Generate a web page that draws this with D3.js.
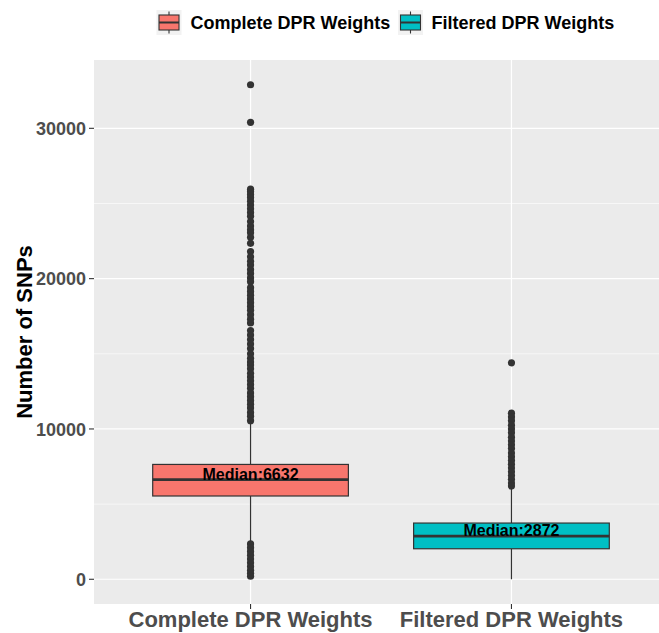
<!DOCTYPE html>
<html>
<head>
<meta charset="utf-8">
<script src="https://cdn.jsdelivr.net/npm/d3@7"></script>
<style>
  html, body { margin: 0; padding: 0; background: #fff; }
  svg { display: block; font-family: "Liberation Sans", Arial, Helvetica, sans-serif; }
</style>
</head>
<body>
<svg id="chart" width="659" height="633"></svg>
<script>
// Groups shown along the x axis
const categories = ["Complete DPR Weights", "Filtered DPR Weights"];
const fills = ["#F8766D", "#00BFC4"];

// Box summaries per group: lower whisker, Q1, median, Q3, upper whisker
const lowerWhisker = [2450, 0];
const q1Values = [5540, 2030];
const medians = [6632, 2872];
const q3Values = [7640, 3740];
const upperWhisker = [10400, 6100];

// Outlying SNP counts per group
const outliersComplete = [
  32900, 30400,
  25950, 25800, 25600, 25400, 25150, 24900, 24650, 24400, 24150,
  23800, 23500, 23250, 23050, 22750, 22350,
  21800, 21450, 21150, 20900, 20600, 20350, 20050, 19800,
  19400, 19150, 18900, 18650, 18400, 18150, 17900, 17600, 17300, 17050,
  16550, 16250, 15950, 15650,
  15350, 15000, 14700, 14450,
  14250, 14000, 13700, 13450, 13200, 12950, 12700, 12400, 12150, 11900,
  11650, 11400, 11100, 10850, 10550,
  2350, 2100, 1850, 1600, 1350, 1100, 850, 600, 400, 200
];
const outliersFiltered = [
  14400,
  11050, 10800, 10550,
  10250, 10000, 9750, 9450, 9200, 8950, 8700, 8400, 8150, 7900,
  7650, 7400, 7150, 6900, 6650, 6400, 6200
];
const outliers = [outliersComplete, outliersFiltered];

// Axis ticks
const majorTicks = [0, 10000, 20000, 30000];
const minorTicks = [5000, 15000, 25000];

const yLabel = "Number of SNPs";

const svg = d3.select("#chart");
const panel = { left: 94, right: 668, top: 60, bottom: 604 };

const x = d3.scalePoint().domain(categories).range([panel.left, panel.right]).padding(0.6);
const y = d3.scaleLinear().domain([-1645, 34545]).range([panel.bottom, panel.top]);
const boxW = x.step() * 0.75;

const ink = "#333333";

// clip for panel
svg.append("defs").append("clipPath").attr("id", "panelClip")
  .append("rect")
  .attr("x", panel.left).attr("y", panel.top)
  .attr("width", panel.right - panel.left).attr("height", panel.bottom - panel.top);

const plot = svg.append("g").attr("clip-path", "url(#panelClip)");

plot.append("rect")
  .attr("x", panel.left).attr("y", panel.top)
  .attr("width", panel.right - panel.left).attr("height", panel.bottom - panel.top)
  .attr("fill", "#EBEBEB");

// grid lines
plot.selectAll(".minor").data(minorTicks).join("line")
  .attr("x1", panel.left).attr("x2", panel.right)
  .attr("y1", d => y(d)).attr("y2", d => y(d))
  .attr("stroke", "#fff").attr("stroke-width", 0.6);
plot.selectAll(".major").data(majorTicks).join("line")
  .attr("x1", panel.left).attr("x2", panel.right)
  .attr("y1", d => y(d)).attr("y2", d => y(d))
  .attr("stroke", "#fff").attr("stroke-width", 1.2);
plot.selectAll(".vmajor").data(categories).join("line")
  .attr("x1", d => x(d)).attr("x2", d => x(d))
  .attr("y1", panel.top).attr("y2", panel.bottom)
  .attr("stroke", "#fff").attr("stroke-width", 1.2);

// boxes
categories.forEach((cat, i) => {
  const cx = x(cat);
  const g = plot.append("g");
  // whiskers
  g.append("line").attr("x1", cx).attr("x2", cx)
    .attr("y1", y(q3Values[i])).attr("y2", y(upperWhisker[i]))
    .attr("stroke", ink).attr("stroke-width", 1.2);
  g.append("line").attr("x1", cx).attr("x2", cx)
    .attr("y1", y(q1Values[i])).attr("y2", y(lowerWhisker[i]))
    .attr("stroke", ink).attr("stroke-width", 1.2);
  // box
  g.append("rect")
    .attr("x", cx - boxW / 2).attr("width", boxW)
    .attr("y", y(q3Values[i])).attr("height", y(q1Values[i]) - y(q3Values[i]))
    .attr("fill", fills[i]).attr("stroke", ink).attr("stroke-width", 1.2);
  // median
  g.append("line")
    .attr("x1", cx - boxW / 2).attr("x2", cx + boxW / 2)
    .attr("y1", y(medians[i])).attr("y2", y(medians[i]))
    .attr("stroke", ink).attr("stroke-width", 2.6);
  // outliers
  g.selectAll("circle").data(outliers[i]).join("circle")
    .attr("cx", cx).attr("cy", d => y(d)).attr("r", 3.6)
    .attr("fill", ink);
  // median label
  g.append("text")
    .attr("x", cx).attr("y", y(medians[i]))
    .attr("text-anchor", "middle")
    .attr("font-size", 16).attr("font-weight", "bold").attr("fill", "#000")
    .text("Median:" + medians[i]);
});

// y axis ticks + labels
const yAxis = svg.append("g");
yAxis.selectAll("line").data(majorTicks).join("line")
  .attr("x1", panel.left - 5).attr("x2", panel.left)
  .attr("y1", d => y(d)).attr("y2", d => y(d))
  .attr("stroke", ink).attr("stroke-width", 1.1);
yAxis.selectAll("text").data(majorTicks).join("text")
  .attr("x", panel.left - 8).attr("y", d => y(d) + 6.6)
  .attr("text-anchor", "end")
  .attr("font-size", 18).attr("font-weight", "bold").attr("fill", "#4D4D4D")
  .text(d => d);

// x axis ticks + labels
const xAxis = svg.append("g");
xAxis.selectAll("line").data(categories).join("line")
  .attr("x1", d => x(d)).attr("x2", d => x(d))
  .attr("y1", panel.bottom).attr("y2", panel.bottom + 5)
  .attr("stroke", ink).attr("stroke-width", 1.1);
xAxis.selectAll("text").data(categories).join("text")
  .attr("x", d => x(d)).attr("y", 627)
  .attr("text-anchor", "middle")
  .attr("font-size", 22).attr("font-weight", "bold").attr("fill", "#4D4D4D")
  .text(d => d);

// y title
svg.append("text")
  .attr("transform", `translate(31.5, ${(panel.top + panel.bottom) / 2}) rotate(-90)`)
  .attr("text-anchor", "middle")
  .attr("font-size", 22).attr("font-weight", "bold").attr("fill", "#000")
  .text(yLabel);

// legend
const legendPos = [{ key: 156.5, text: 190.5 }, { key: 398, text: 431.5 }];
categories.forEach((cat, i) => {
  const lg = svg.append("g");
  const kx = legendPos[i].key, ky = 10, ks = 25;
  lg.append("rect").attr("x", kx).attr("y", ky).attr("width", ks).attr("height", ks).attr("fill", "#F2F2F2");
  const mid = kx + ks / 2;
  lg.append("line").attr("x1", mid).attr("x2", mid).attr("y1", ky + 1.5).attr("y2", ky + ks - 1.5)
    .attr("stroke", ink).attr("stroke-width", 1.1);
  lg.append("rect").attr("x", kx + 2.5).attr("y", ky + 5).attr("width", ks - 5).attr("height", ks - 10)
    .attr("fill", fills[i]).attr("stroke", ink).attr("stroke-width", 1.1);
  lg.append("line").attr("x1", kx + 2.5).attr("x2", kx + ks - 2.5).attr("y1", ky + ks / 2).attr("y2", ky + ks / 2)
    .attr("stroke", ink).attr("stroke-width", 2);
  lg.append("text").attr("x", legendPos[i].text).attr("y", 28.8)
    .attr("font-size", 18).attr("font-weight", "bold").attr("fill", "#000")
    .text(cat);
});
</script>
</body>
</html>
